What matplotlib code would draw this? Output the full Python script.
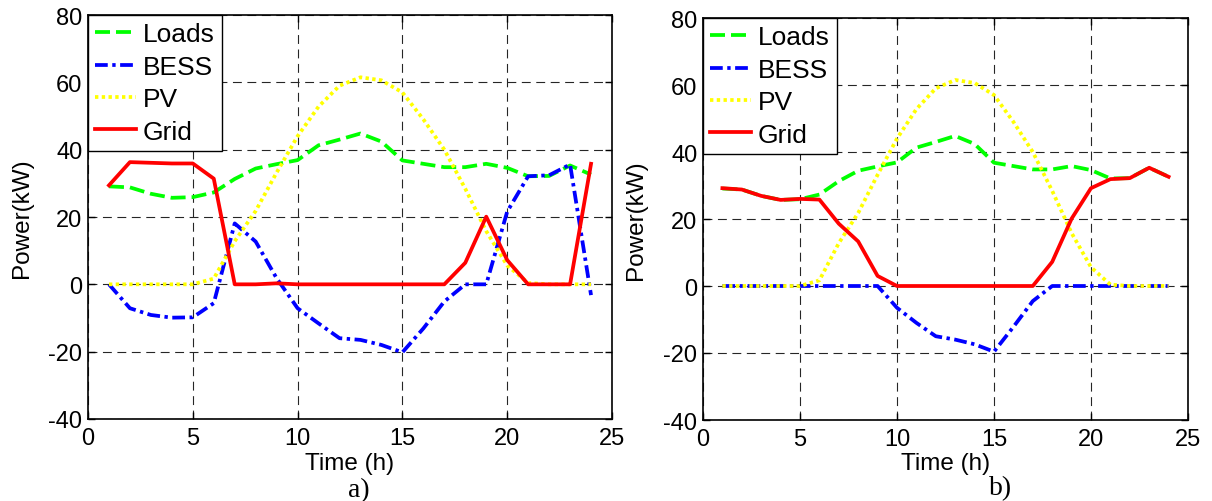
import matplotlib
matplotlib.use("Agg")
import matplotlib.pyplot as plt

plt.rcParams['font.family'] = ['Liberation Sans', 'DejaVu Sans']
plt.rcParams['axes.unicode_minus'] = False

hours = list(range(1, 25))
loads = [29.1, 28.8, 26.9, 25.7, 25.9, 27.3, 31.3, 34.4, 35.7, 36.9, 41.3, 43.0,
         44.8, 42.4, 36.8, 35.8, 34.8, 34.8, 35.8, 34.6, 32.1, 32.2, 35.3, 32.6]
pv = [0, 0, 0, 0, 0, 1.7, 12.8, 21.8, 33.2, 44.0, 52.8, 59.0,
      61.5, 60.6, 57.0, 49.0, 40.0, 28.4, 15.8, 5.6, 0.4, 0, 0, 0]
bess_a = [0, -7.1, -9.1, -9.9, -9.8, -5.6, 18.1, 12.7, 1.8, -7.1, -11.6, -16.0,
          -16.5, -18.0, -20.2, -13.1, -5.1, 0, 0, 21.6, 32.1, 32.4, 35.6, -3.2]
grid_a = [29.4, 36.3, 36.1, 35.9, 35.9, 31.4, 0, 0, 0.3, 0, 0, 0,
          0, 0, 0, 0, 0, 6.4, 20.1, 7.2, 0, 0, 0, 35.8]
bess_b = [0, 0, 0, 0, 0, 0, 0, 0, 0, -6.5, -11.0, -15.0,
          -16.0, -17.4, -19.6, -12.2, -4.5, 0, 0, 0, 0, 0, 0, 0]
grid_b = [29.2, 28.8, 26.9, 25.7, 26.0, 25.8, 18.6, 13.3, 3.0, 0, 0, 0,
          0, 0, 0, 0, 0, 7.2, 20.1, 29.2, 31.9, 32.2, 35.3, 32.6]

series_names = ["Loads", "BESS", "PV", "Grid"]
xticks = [0, 5, 10, 15, 20, 25]
yticks = [-40, -20, 0, 20, 40, 60, 80]

W, H = 1212, 502
fig = plt.figure(figsize=(W / 100, H / 100), dpi=100)

def px_axes(x0, x1, y0, y1):
    return fig.add_axes([x0 / W, 1 - y1 / H, (x1 - x0) / W, (y1 - y0) / H])

ax1 = px_axes(88, 612, 16, 420)
ax2 = px_axes(703, 1188, 19, 421)

LW = 2.7
styles = [
    dict(color='#00ff00', dashes=(4.0, 1.6)),
    dict(color='#0000ff', dashes=(3.4, 1.2, 0.9, 1.2)),
    dict(color='#ffff00', dashes=(0.9, 0.9)),
    dict(color='#ff0000', linestyle='-'),
]

for ax, bess, grid, lab, lx, lbase in [
        (ax1, bess_a, grid_a, "a)", 359, 497),
        (ax2, bess_b, grid_b, "b)", 1001, 495)]:
    data = [loads, bess, pv, grid]
    for name, d, st in zip(series_names, data, styles):
        ax.plot(hours, d, lw=LW, label=name, dash_capstyle='butt', **st)
    ax.set_xlim(0, 25)
    ax.set_ylim(-40, 80)
    ax.set_xticks(xticks)
    ax.set_yticks(yticks)
    ax.grid(True, color='0.15', lw=0.8, dashes=(8, 5))
    ax.tick_params(direction='in', length=5, width=1, labelsize=17,
                   top=True, right=True)
    ax.tick_params(axis='x', pad=6)
    ax.tick_params(axis='y', pad=4)
    for s in ax.spines.values():
        s.set_linewidth(1.2)
        s.set_color('k')
    ax.set_xlabel("Time (h)", fontsize=17.5)
    ax.set_ylabel("Power(kW)", fontsize=17.5)
    leg = ax.legend(loc='upper left', borderaxespad=0, fancybox=False,
                    edgecolor='k', framealpha=1, fontsize=19,
                    handlelength=1.55, handletextpad=0.25,
                    labelspacing=0.32, borderpad=0.28)
    leg.get_frame().set_linewidth(1.0)
    fig.text(lx / W, 1 - lbase / H, lab, ha='center', va='baseline',
             fontsize=20, family=['Liberation Serif', 'DejaVu Serif'])

ax1.xaxis.set_label_coords(0.5, (420 - 470) / 404)
ax1.xaxis.label.set_va('baseline')
ax2.xaxis.set_label_coords(0.5, (421 - 470) / 402)
ax2.xaxis.label.set_va('baseline')
ax1.yaxis.set_label_coords((33 - 88) / 524, 0.5)
ax2.yaxis.set_label_coords((647 - 703) / 485, 0.5)

fig.savefig("out.png", dpi=100)
